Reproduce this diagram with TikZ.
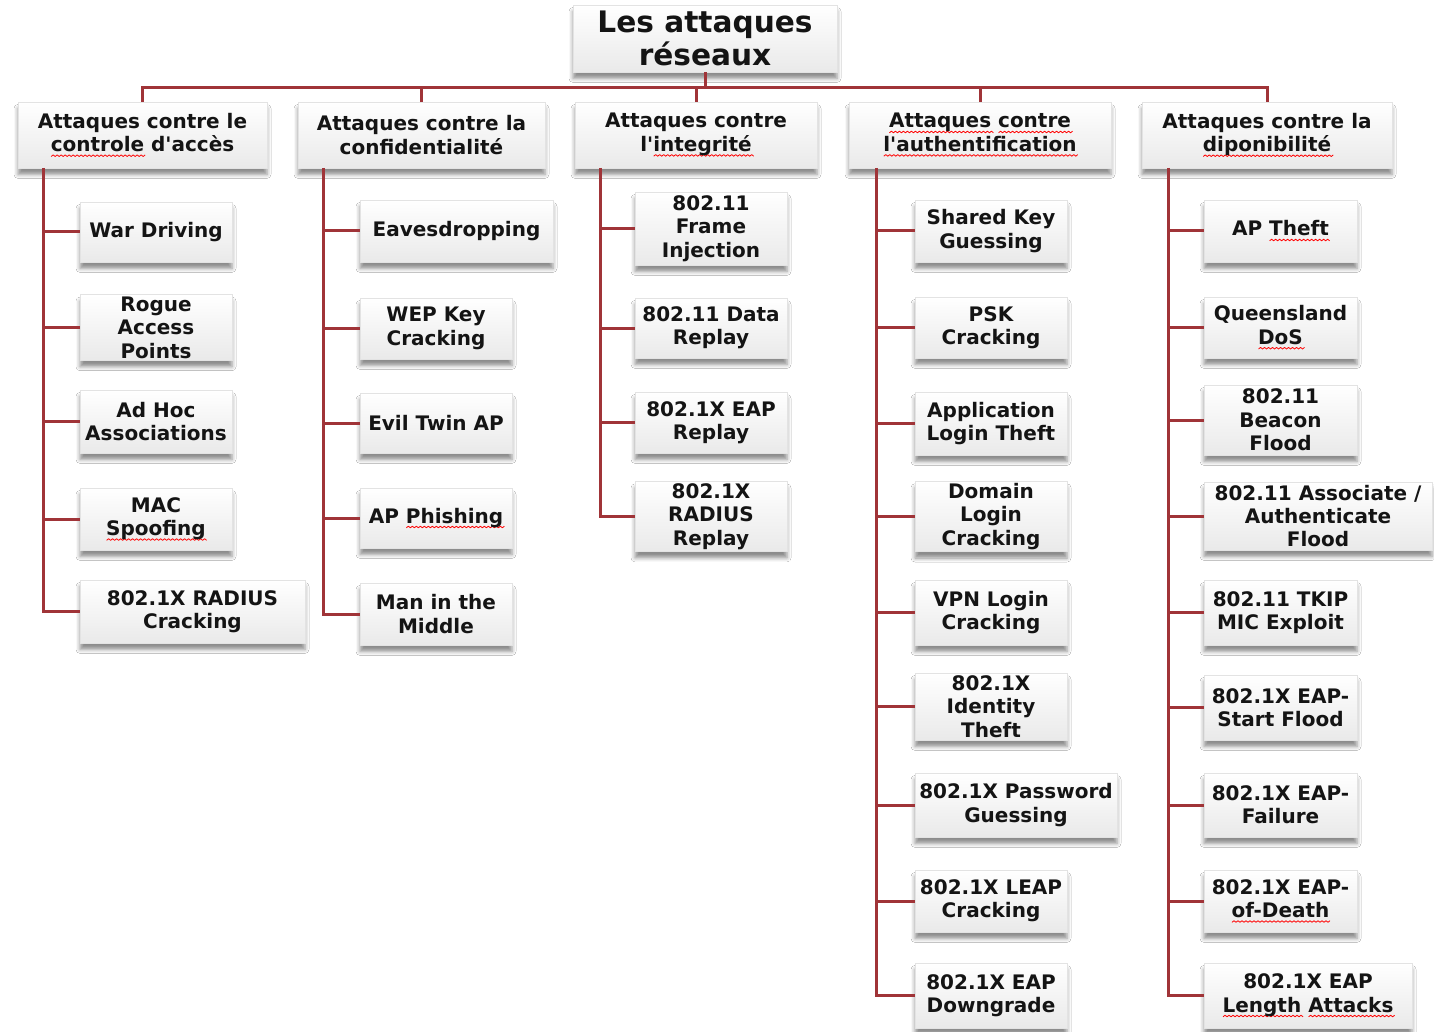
\documentclass[tikz,border=0pt]{standalone}
\usepackage{fontspec}
\setmainfont{DejaVu Sans}[Ligatures=TeXOff]
\usetikzlibrary{shadows.blur}
\definecolor{linkred}{RGB}{160,52,56}
\definecolor{boxtext}{RGB}{20,20,20}
% red wavy underline, as a spell checker marks a word
\newbox\wavebox
\newdimen\wavex
\newcount\wavek
\newcommand\wavepath{%
  \wavex=0pt \wavek=0
  \pgfpathmoveto{\pgfpoint{0pt}{0pt}}%
  \loop
    \advance\wavex by 1pt \advance\wavek by 1
    \ifodd\wavek \pgfpathlineto{\pgfpoint{\wavex}{0.8pt}}\else\pgfpathlineto{\pgfpoint{\wavex}{0pt}}\fi
  \ifdim\wavex<\wd\wavebox\repeat}
\newcommand\spellwave[1]{%
  \setbox\wavebox=\hbox{#1}%
  \leavevmode\rlap{\lower2.6pt\hbox{\begin{pgfpicture}%
    \pgfsetlinewidth{0.4pt}\pgfsetstrokecolor{red}\pgfsetroundjoin
    \wavepath\pgfusepath{stroke}%
  \end{pgfpicture}}}\box\wavebox}
% box given by its corners (x1,y1)-(x2,y2) in pixel units
\newcommand\mkbox[7][]{%
  \node[attbox,#1,minimum width={(#4-#2)*0.5pt},minimum height={(#5-#3)*0.5pt}]
    (#6) at ({(#2+#4)/2},{(#3+#5)/2}) {#7};}
\tikzset{
  attbox/.style={draw=gray!22, line width=0.4pt, top color=white, bottom color=gray!17,
    inner sep=1pt, align=center, text=boxtext,
    font=\bfseries\fontsize{10}{11.7}\selectfont,
    blur shadow={shadow xshift=0pt, shadow yshift=-3.2pt, shadow blur radius=2pt, shadow opacity=45}},
  roottext/.style={font=\bfseries\fontsize{14.8}{16.5}\selectfont},
  link/.style={draw=linkred, line width=1.5pt}
}
\begin{document}
\begin{tikzpicture}[x=0.5pt,y=-0.5pt]
\fill[white] (0,0) rectangle (1434,1032);
\useasboundingbox (0,0) rectangle (1434,1032);

% root and first level
\mkbox[roottext]{573}{5}{837}{72}{root}{Les attaques\\réseaux}
\mkbox{18}{102}{267}{168}{l1a}{Attaques contre le\\\spellwave{controle} d'accès}
\mkbox{298}{102}{545}{168}{l1b}{Attaques contre la\\confidentialité}
\mkbox{575}{102}{817}{168}{l1c}{Attaques contre\\l'\spellwave{integrité}}
\mkbox{849}{102}{1111}{168}{l1d}{\spellwave{Attaques} \spellwave{contre}\\\spellwave{l'authentification}}
\mkbox{1142}{102}{1392}{168}{l1e}{Attaques contre la\\\spellwave{diponibilité}}

% access control
\mkbox{80}{202}{232}{262}{c1a}{War Driving}
\mkbox{80}{295}{232}{360}{c1b}{Rogue\\Access\\Points}
\mkbox{80}{390}{232}{453}{c1c}{Ad Hoc\\Associations}
\mkbox{80}{488}{232}{550}{c1d}{MAC\\\spellwave{Spoofing}}
\mkbox{80}{580}{305}{643}{c1e}{802.1X RADIUS\\Cracking}

% confidentiality
\mkbox{360}{200}{553}{262}{c2a}{Eavesdropping}
\mkbox{360}{298}{512}{359}{c2b}{WEP Key\\Cracking}
\mkbox{360}{393}{512}{453}{c2c}{Evil Twin AP}
\mkbox{360}{488}{512}{548}{c2d}{AP \spellwave{Phishing}}
\mkbox{360}{583}{512}{645}{c2e}{Man in the\\Middle}

% integrity
\mkbox{635}{192}{787}{265}{c3a}{802.11\\Frame\\Injection}
\mkbox{635}{298}{787}{358}{c3b}{802.11 Data\\Replay}
\mkbox{635}{392}{787}{453}{c3c}{802.1X EAP\\Replay}
\mkbox{635}{483}{787}{550}{c3d}{802.1X\\RADIUS\\Replay}

% authentication
\mkbox{915}{200}{1067}{262}{c4a}{Shared Key\\Guessing}
\mkbox{915}{297}{1067}{358}{c4b}{PSK\\Cracking}
\mkbox{915}{392}{1067}{455}{c4c}{Application\\Login Theft}
\mkbox{915}{483}{1067}{550}{c4d}{Domain\\Login\\Cracking}
\mkbox{915}{580}{1067}{645}{c4e}{VPN Login\\Cracking}
\mkbox{915}{673}{1067}{740}{c4f}{802.1X\\Identity\\Theft}
\mkbox{915}{773}{1117}{837}{c4g}{802.1X Password\\Guessing}
\mkbox{915}{870}{1067}{932}{c4h}{802.1X LEAP\\Cracking}
\mkbox{915}{963}{1067}{1028}{c4i}{802.1X EAP\\Downgrade}

% availability
\mkbox{1204}{200}{1357}{262}{c5a}{AP \spellwave{Theft}}
\mkbox{1204}{297}{1357}{358}{c5b}{Queensland\\\spellwave{DoS}}
\mkbox{1204}{385}{1357}{455}{c5c}{802.11\\Beacon\\Flood}
\mkbox{1204}{482}{1432}{550}{c5d}{802.11 Associate /\\Authenticate\\Flood}
\mkbox{1204}{580}{1357}{645}{c5e}{802.11 TKIP\\MIC Exploit}
\mkbox{1204}{675}{1357}{740}{c5f}{802.1X EAP-\\Start Flood}
\mkbox{1204}{773}{1357}{837}{c5g}{802.1X EAP-\\Failure}
\mkbox{1204}{870}{1357}{932}{c5h}{802.1X EAP-\\\spellwave{of-Death}}
\mkbox{1204}{963}{1412}{1028}{c5i}{802.1X EAP\\\spellwave{Length} \spellwave{Attacks}}

% top bus
\coordinate (bus) at (704,88);
\draw[link] (root.south) -- (root.south |- bus);
\draw[link] (l1a.north) |- (bus) -| (l1e.north);
\foreach \n in {l1b,l1c,l1d} \draw[link] (\n.north) -- (\n.north |- bus);

% column trunks
\coordinate (t1) at (43,168);
\coordinate (t2) at (323,168);
\coordinate (t3) at (600,168);
\coordinate (t4) at (876,168);
\coordinate (t5) at (1168,168);
\draw[link] (t1) |- (c1e.west);
\draw[link] (t2) |- (c2e.west);
\draw[link] (t3) |- (c3d.west);
\draw[link] (t4) |- (c4i.west);
\draw[link] (t5) |- (c5i.west);
\foreach \n in {c1a,c1b,c1c,c1d} \draw[link] (\n.west -| t1) -- (\n.west);
\foreach \n in {c2a,c2b,c2c,c2d} \draw[link] (\n.west -| t2) -- (\n.west);
\foreach \n in {c3a,c3b,c3c} \draw[link] (\n.west -| t3) -- (\n.west);
\foreach \n in {c4a,c4b,c4c,c4d,c4e,c4f,c4g,c4h} \draw[link] (\n.west -| t4) -- (\n.west);
\foreach \n in {c5a,c5b,c5c,c5d,c5e,c5f,c5g,c5h} \draw[link] (\n.west -| t5) -- (\n.west);
\end{tikzpicture}
\end{document}
